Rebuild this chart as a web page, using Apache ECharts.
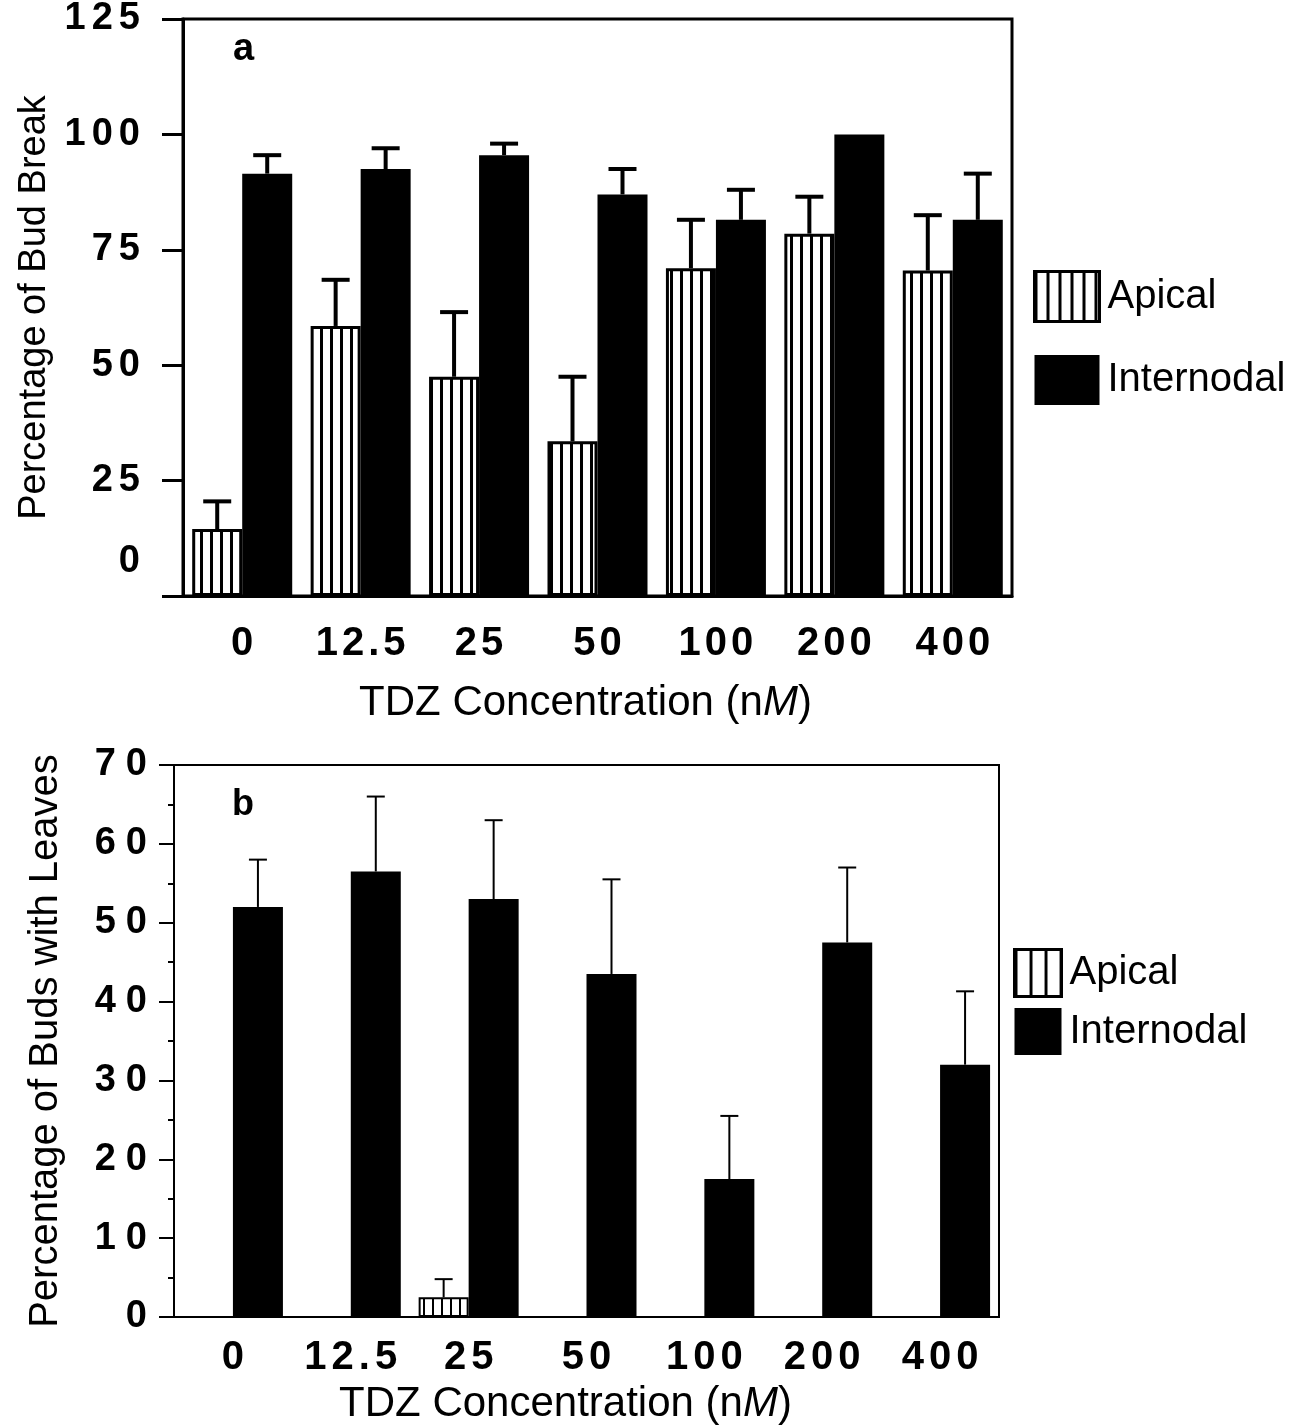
<!DOCTYPE html>
<html>
<head>
<meta charset="utf-8">
<script src="https://cdn.jsdelivr.net/npm/echarts@6/dist/echarts.min.js"></script>
<style>
  html, body { margin: 0; padding: 0; background: #fff; }
  #chart { width: 1300px; height: 1426px; }
</style>
</head>
<body>
<div id="chart"></div>
<script>
const categories = ['0', '12.5', '25', '50', '100', '200', '400']

// panel a: percentage of bud break
const apicalA = [14.5, 58.5, 47.5, 33.5, 71, 78.5, 70.5]
const apicalErrA = [6, 10, 14, 14, 10.5, 8, 12]
const internodalA = [91.5, 92.5, 95.5, 87, 81.5, 100, 81.5]
const internodalErrA = [4, 4.5, 2.5, 5.5, 6.5, 0, 10]

// panel b: percentage of buds with leaves
const apicalB = [0, 0, 2.5, 0, 0, 0, 0]
const apicalErrB = [0, 0, 2.3, 0, 0, 0, 0]
const internodalB = [52, 56.5, 53, 43.5, 17.5, 47.5, 32]
const internodalErrB = [6, 9.5, 10, 12, 8, 9.5, 9.3]

const FONT = "'Liberation Sans', Arial, Helvetica, sans-serif"

// vertical stripe fill, like the hatched Apical bars
function stripes (period, lineW) {
  const c = document.createElement('canvas')
  c.width = period
  c.height = 8
  const ctx = c.getContext('2d')
  ctx.fillStyle = '#fff'
  ctx.fillRect(0, 0, period, 8)
  ctx.fillStyle = '#000'
  ctx.fillRect(0, 0, lineW, 8)
  return { image: c, repeat: 'repeat' }
}

// spread the digits a bit, the print has wide letter spacing
function spaced (v) {
  return String(v).split('').join('{s| }')
}

function errData (means, errs, side) {
  return means.map((m, i) => [i, m, errs[i], side])
}

function errRender (halfW, capW, lineW) {
  return function (params, api) {
    const err = api.value(2)
    if (!err) return
    const mean = api.value(1)
    const base = api.coord([api.value(0), mean])
    const top = api.coord([api.value(0), mean + err])
    const x = base[0] + api.value(3) * halfW
    const st = { stroke: '#000', lineWidth: lineW }
    return {
      type: 'group',
      children: [
        { type: 'line', shape: { x1: x, y1: base[1], x2: x, y2: top[1] }, style: st },
        { type: 'line', shape: { x1: x - capW / 2, y1: top[1], x2: x + capW / 2, y2: top[1] }, style: st }
      ]
    }
  }
}

const chart = echarts.init(document.getElementById('chart'))

const option = {
  animation: false,
  backgroundColor: '#fff',
  title: [
    { text: 'a', left: 233, top: 31, padding: 0, textStyle: { fontSize: 38, fontWeight: 'bold', fontFamily: FONT, color: '#000' } },
    { text: 'b', left: 232, top: 787, padding: 0, textStyle: { fontSize: 36, fontWeight: 'bold', fontFamily: FONT, color: '#000' } }
  ],
  legend: [
    {
      orient: 'vertical',
      left: 1028,
      top: 265,
      itemWidth: 65,
      itemHeight: 50,
      itemGap: 32,
      icon: 'rect',
      selectedMode: false,
      textStyle: { fontSize: 40, fontFamily: FONT, color: '#000', padding: [0, 0, 0, 3] },
      data: [
        { name: 'Apical', itemStyle: { color: stripes(12, 3), borderColor: '#000', borderWidth: 3 } },
        { name: 'Internodal', itemStyle: { color: '#000', borderWidth: 0 } }
      ]
    },
    {
      orient: 'vertical',
      left: 1008,
      top: 943,
      itemWidth: 47,
      itemHeight: 47,
      itemGap: 10,
      icon: 'rect',
      selectedMode: false,
      textStyle: { fontSize: 40, fontFamily: FONT, color: '#000', padding: [0, 0, 0, 3] },
      data: [
        { name: 'Apical', itemStyle: { color: stripes(15, 3), borderColor: '#000', borderWidth: 3 } },
        { name: 'Internodal', itemStyle: { color: '#000', borderWidth: 0 } }
      ]
    }
  ],
  grid: [
    { left: 183, top: 15, width: 829, height: 581, show: true, borderColor: '#000', borderWidth: 3 },
    { left: 174, top: 765, width: 825, height: 553, show: true, borderColor: '#000', borderWidth: 2 }
  ],
  xAxis: [
    {
      gridIndex: 0,
      type: 'category',
      data: categories,
      axisLine: { lineStyle: { color: '#000', width: 3 } },
      axisTick: { alignWithLabel: true, interval: 0, length: 16, lineStyle: { color: '#000', width: 3 } },
      axisLabel: {
        interval: 0,
        margin: 28,
        fontSize: 40,
        fontWeight: 'bold',
        fontFamily: FONT,
        color: '#000',
        formatter: spaced,
        rich: { s: { width: 4 } }
      },
      name: 'TDZ Concentration (n{i|M})',
      nameLocation: 'middle',
      nameGap: 86,
      nameTextStyle: {
        fontSize: 42,
        fontFamily: FONT,
        color: '#000',
        padding: [0, 24, 0, 0],
        rich: { i: { fontStyle: 'italic', fontSize: 42, fontFamily: FONT, color: '#000' } }
      }
    },
    {
      gridIndex: 1,
      type: 'category',
      data: categories,
      axisLine: { lineStyle: { color: '#000', width: 2 } },
      axisTick: { alignWithLabel: true, interval: 0, length: 8, lineStyle: { color: '#000', width: 2 } },
      axisLabel: {
        interval: 0,
        margin: 21,
        fontSize: 40,
        fontWeight: 'bold',
        fontFamily: FONT,
        color: '#000',
        formatter: spaced,
        rich: { s: { width: 5 } }
      },
      name: 'TDZ Concentration (n{i|M})',
      nameLocation: 'middle',
      nameGap: 66,
      nameTextStyle: {
        fontSize: 42,
        fontFamily: FONT,
        color: '#000',
        padding: [0, 42, 0, 0],
        rich: { i: { fontStyle: 'italic', fontSize: 42, fontFamily: FONT, color: '#000' } }
      }
    }
  ],
  yAxis: [
    {
      gridIndex: 0,
      type: 'value',
      min: 0,
      max: 125,
      interval: 25,
      splitLine: { show: false },
      axisLine: { show: true, lineStyle: { color: '#000', width: 3 } },
      axisTick: { show: true, length: 21, lineStyle: { color: '#000', width: 3 } },
      axisLabel: {
        margin: 43,
        fontSize: 38,
        fontWeight: 'bold',
        fontFamily: FONT,
        color: '#000',
        // the 0 label sits well above its tick in the print
        formatter: v => (v === 0 ? '{z|0}' : spaced(v)),
        rich: { s: { width: 6 }, z: { padding: [0, 0, 68, 0] } }
      },
      name: 'Percentage of Bud Break',
      nameLocation: 'middle',
      nameGap: 129,
      nameTextStyle: { fontSize: 38, fontFamily: FONT, color: '#000' }
    },
    {
      gridIndex: 1,
      type: 'value',
      min: 0,
      max: 70,
      interval: 10,
      splitLine: { show: false },
      axisLine: { show: true, lineStyle: { color: '#000', width: 2 } },
      axisTick: { show: true, length: 15, lineStyle: { color: '#000', width: 2 } },
      minorTick: { show: true, splitNumber: 2, length: 6, lineStyle: { color: '#000', width: 2 } },
      axisLabel: {
        margin: 27,
        fontSize: 38,
        fontWeight: 'bold',
        fontFamily: FONT,
        color: '#000',
        formatter: spaced,
        rich: { s: { width: 10 } }
      },
      name: 'Percentage of Buds with Leaves',
      nameLocation: 'middle',
      nameGap: 108,
      nameTextStyle: { fontSize: 40, fontFamily: FONT, color: '#000' }
    }
  ],
  series: [
    {
      name: 'Apical',
      type: 'bar',
      xAxisIndex: 0,
      yAxisIndex: 0,
      data: apicalA,
      barWidth: 50,
      barGap: '0%',
      itemStyle: { color: stripes(10, 3), borderColor: '#000', borderWidth: 3 }
    },
    {
      name: 'Internodal',
      type: 'bar',
      xAxisIndex: 0,
      yAxisIndex: 0,
      data: internodalA,
      barWidth: 50,
      barGap: '0%',
      itemStyle: { color: '#000' }
    },
    {
      type: 'custom',
      xAxisIndex: 0,
      yAxisIndex: 0,
      silent: true,
      z: 10,
      encode: { x: 0, y: 1 },
      renderItem: errRender(25, 28, 4),
      data: errData(apicalA, apicalErrA, -1).concat(errData(internodalA, internodalErrA, 1))
    },
    {
      name: 'Apical',
      type: 'bar',
      xAxisIndex: 1,
      yAxisIndex: 1,
      data: apicalB,
      barWidth: 50,
      barGap: '0%',
      itemStyle: { color: stripes(9, 2), borderColor: '#000', borderWidth: 2 }
    },
    {
      name: 'Internodal',
      type: 'bar',
      xAxisIndex: 1,
      yAxisIndex: 1,
      data: internodalB,
      barWidth: 50,
      barGap: '0%',
      itemStyle: { color: '#000' }
    },
    {
      type: 'custom',
      xAxisIndex: 1,
      yAxisIndex: 1,
      silent: true,
      z: 10,
      encode: { x: 0, y: 1 },
      renderItem: errRender(25, 18, 2),
      data: errData(apicalB, apicalErrB, -1).concat(errData(internodalB, internodalErrB, 1))
    }
  ]
}

chart.setOption(option)
</script>
</body>
</html>
